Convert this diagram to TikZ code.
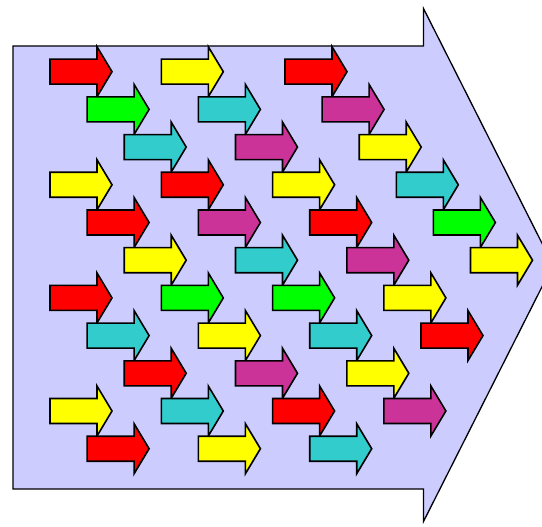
\documentclass[tikz,border=0pt]{standalone}
\definecolor{bgfill}{HTML}{CCCCFF}
\definecolor{ared}{HTML}{FF0000}
\definecolor{agreen}{HTML}{00FF00}
\definecolor{acyan}{HTML}{33CCCC}
\definecolor{amag}{HTML}{CC3399}
\definecolor{ayel}{HTML}{FFFF00}
\tikzset{
  bigarrow/.style={draw=black, line width=1.3pt, fill=bgfill, line join=miter},
  smallarrow/.style={draw=black, line width=1.6pt, line join=miter},
}
\newcommand\sarrow[3]{%
  \draw[smallarrow, fill=#3] (#1,#2+12.5) -- ++(47,0) -- ++(0,12.5) -- ++(15,-25)
    -- ++(-15,-25) -- ++(0,12.5) -- ++(-47,0) -- cycle;}
\begin{document}
\begin{tikzpicture}[x=1pt,y=-1pt]
\useasboundingbox (0,0) rectangle (542,527);
\clip (0,0) rectangle (542,527);
\draw[bigarrow] (13,46) -- (423.5,46) -- (423.5,8.5) -- (553,265) -- (423.5,521.5)
  -- (423.5,489) -- (13,489) -- cycle;
% group 1
\foreach \x/\r/\c in {50/0/ared, 87.1/1/agreen, 124.2/2/acyan, 50/3/ayel, 87.1/4/ared,
  124.2/5/ayel, 50/6/ared, 87.1/7/acyan, 124.2/8/ared, 50/9/ayel, 87.1/10/ared,
  161.3/0/ayel, 198.4/1/acyan, 235.5/2/amag, 161.3/3/ared, 198.4/4/amag, 235.5/5/acyan,
  161.3/6/agreen, 198.4/7/ayel, 235.5/8/amag, 161.3/9/acyan, 198.4/10/ayel,
  285/0/ared, 322.1/1/amag, 359.2/2/ayel, 396.3/3/acyan, 433.4/4/agreen, 470.5/5/ayel,
  272.6/3/ayel, 309.7/4/ared, 346.8/5/amag, 383.9/6/ayel, 421/7/ared,
  272.6/6/agreen, 309.7/7/acyan, 346.8/8/ayel, 383.9/9/amag,
  272.6/9/ared, 309.7/10/acyan}
  {\sarrow{\x}{71.7+37.7*\r}{\c}}
\end{tikzpicture}
\end{document}
